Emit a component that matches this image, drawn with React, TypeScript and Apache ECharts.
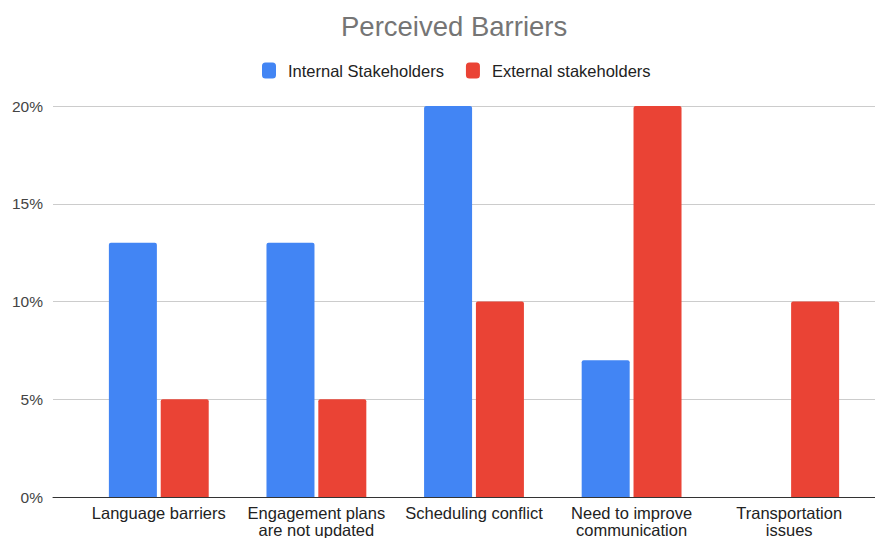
import React, { useEffect, useRef } from "react";
import * as echarts from "echarts";

const categories = [
  "Language barriers",
  "Engagement plans\nare not updated",
  "Scheduling conflict",
  "Need to improve\ncommunication",
  "Transportation\nissues",
];
const internalValues = [13, 13, 20, 7, 0];
const externalValues = [5, 5, 10, 20, 10];
const seriesNames = ["Internal Stakeholders", "External stakeholders"];
const yTicks = { min: 0, max: 20, interval: 5 };

const FONT = "Arial, 'Liberation Sans', sans-serif";

export default function App() {
  const ref = useRef<HTMLDivElement>(null);

  useEffect(() => {
    if (!ref.current) return;
    const chart = echarts.init(ref.current, null, { renderer: "svg" });
    chart.setOption({
      animation: false,
      backgroundColor: "#ffffff",
      title: {
        text: "Perceived Barriers",
        left: 336,
        top: 7,
        textStyle: { fontFamily: FONT, fontSize: 27.5, fontWeight: "normal", color: "#757575" },
      },
      legend: {
        top: 57,
        left: 257,
        itemWidth: 14,
        itemHeight: 16,
        itemGap: 22,
        icon: "roundRect",
        textStyle: { fontFamily: FONT, fontSize: 16.5, color: "#222222", padding: [0, 0, 0, 7] },
        data: seriesNames,
      },
      grid: [
        // frame grid: gridlines, y labels and baseline across the full width
        { left: 53, right: 0, top: 106, bottom: 41, outerBoundsMode: "none", containLabel: false },
        // bar grid: category bands
        { left: 80, right: 15, top: 106, bottom: 41, outerBoundsMode: "none", containLabel: false },
      ],
      xAxis: [
        {
          gridIndex: 0,
          type: "value",
          min: 0,
          max: 1,
          axisLine: { show: true, lineStyle: { color: "#333333", width: 1 } },
          axisTick: { show: false },
          axisLabel: { show: false },
          splitLine: { show: false },
        },
        {
          gridIndex: 1,
          type: "category",
          data: categories,
          axisLine: { show: false },
          axisTick: { show: false },
          axisLabel: {
            interval: 0,
            margin: 8,
            fontFamily: FONT,
            fontSize: 16.5,
            color: "#222222",
            lineHeight: 16.5,
          },
        },
      ],
      yAxis: [
        {
          gridIndex: 0,
          type: "value",
          min: yTicks.min,
          max: yTicks.max,
          interval: yTicks.interval,
          axisLine: { show: false },
          axisTick: { show: false },
          axisLabel: {
            formatter: (v: number) => `${v}%`,
            fontFamily: FONT,
            fontSize: 15.5,
            color: "#444444",
            margin: 10,
          },
          splitLine: { lineStyle: { color: "#cccccc", width: 1 } },
        },
        {
          gridIndex: 1,
          type: "value",
          min: yTicks.min,
          max: yTicks.max,
          interval: yTicks.interval,
          show: false,
          splitLine: { show: false },
        },
      ],
      series: [
        {
          name: seriesNames[0],
          type: "bar",
          xAxisIndex: 1,
          yAxisIndex: 1,
          data: internalValues,
          barWidth: 48,
          barGap: "8%",
          itemStyle: { color: "#4285F4", borderRadius: [2, 2, 0, 0] },
        },
        {
          name: seriesNames[1],
          type: "bar",
          xAxisIndex: 1,
          yAxisIndex: 1,
          data: externalValues,
          barWidth: 48,
          barGap: "8%",
          itemStyle: { color: "#EA4335", borderRadius: [2, 2, 0, 0] },
        },
      ],
    });
    return () => chart.dispose();
  }, []);

  return <div ref={ref} style={{ width: 883, height: 538, marginLeft: -8, marginTop: -8 }} />;
}
